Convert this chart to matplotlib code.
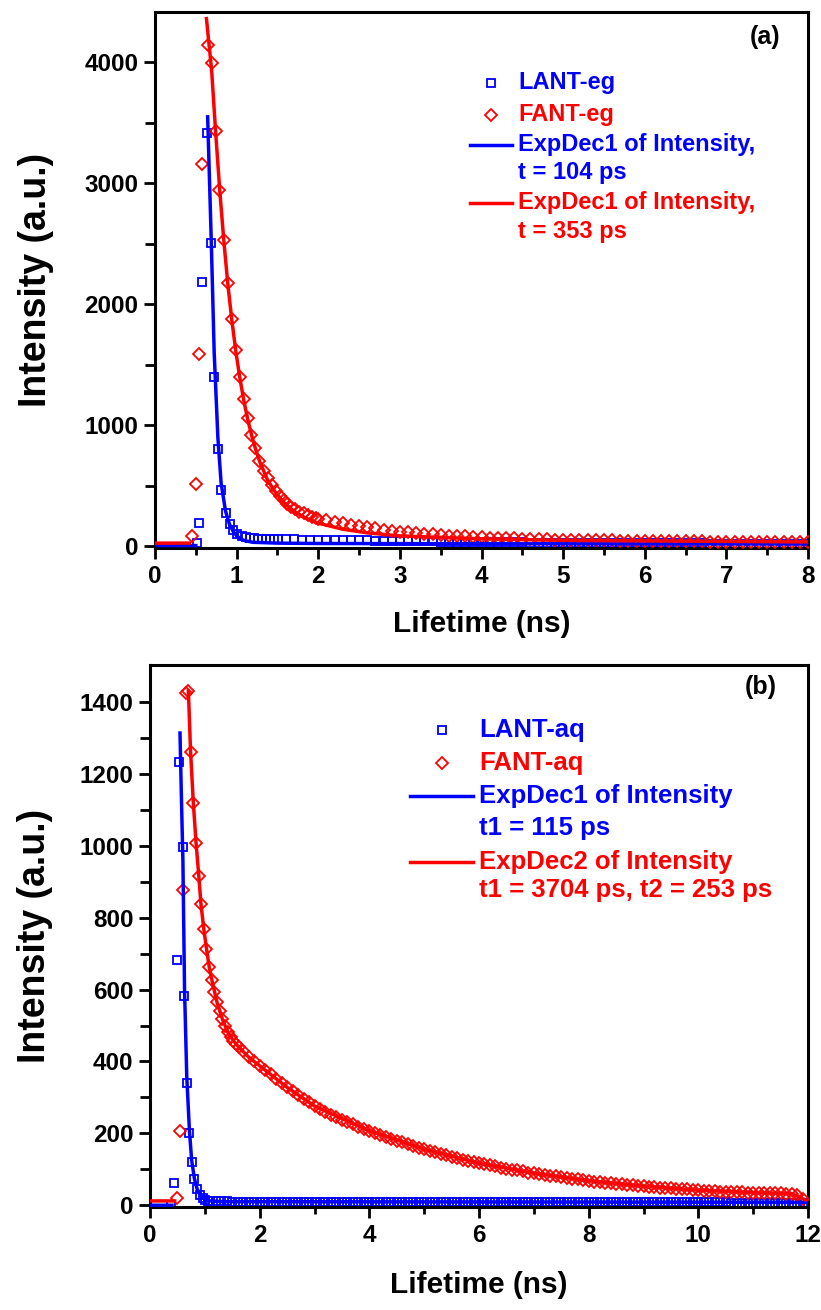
import numpy as np
import matplotlib
matplotlib.use("Agg")
from matplotlib import pyplot as plt

plt.rcParams['font.family'] = ['Liberation Sans', 'DejaVu Sans']
plt.rcParams['font.weight'] = 'bold'
plt.rcParams['axes.labelweight'] = 'bold'

BLUE = '#0000ff'
RED = '#ff0000'

#______________________________ panel (a): -eg samples ______________________________
# LANT-eg decay (squares), steep part then the slow tail every 0.1 ns
t_lant_eg = [0.51, 0.545, 0.58, 0.635, 0.69, 0.725, 0.77, 0.81, 0.864, 0.913,
             0.96, 1.01, 1.06, 1.11, 1.16, 1.21, 1.26, 1.31, 1.36, 1.41, 1.46, 1.51]
i_lant_eg = [25, 193, 2182, 3413, 2504, 1399, 802, 463, 278, 182,
             132, 100, 82, 72, 67, 64, 62, 61, 60, 59, 58, 57]
t_lant_eg_tail = np.round(np.arange(1.6, 8.05, 0.1), 2)
i_lant_eg_tail = [56, 56, 55, 54, 53, 52, 51, 50, 49, 48,
                  47, 46, 45, 44, 43, 42, 41, 40, 39, 38,
                  37, 36, 35, 35, 34, 33, 33, 32, 31, 31,
                  30, 30, 29, 29, 28, 28, 27, 27, 26, 26,
                  25, 25, 25, 24, 24, 24, 23, 23, 23, 22,
                  22, 22, 21, 21, 21, 21, 20, 20, 20, 20,
                  19, 19, 19, 19, 18]

# FANT-eg decay (diamonds)
t_fant_eg = [0.45, 0.50, 0.545, 0.58, 0.647, 0.70, 0.75, 0.79, 0.84, 0.89,
             0.94, 0.99, 1.04, 1.09, 1.14, 1.18, 1.23, 1.28, 1.33, 1.38,
             1.43, 1.48, 1.53, 1.58, 1.62, 1.67, 1.72, 1.77, 1.82, 1.87, 1.92, 1.97]
i_fant_eg = [83, 512, 1592, 3157, 4140, 3997, 3430, 2942, 2529, 2176,
             1876, 1620, 1394, 1215, 1055, 917, 812, 702, 625, 560,
             505, 458, 418, 383, 352, 327, 305, 286, 270, 256, 243, 232]
t_fant_eg_tail = np.round(np.arange(2.0, 8.05, 0.1), 2)
i_fant_eg_tail = [225, 213, 201, 190, 178, 167, 156, 146, 137, 129,
                  121, 114, 108, 102, 97, 92, 88, 84, 80, 77,
                  74, 71, 69, 66, 64, 62, 60, 58, 56, 55,
                  53, 52, 51, 50, 49, 48, 47, 46, 45, 44,
                  43, 42, 42, 41, 40, 40, 39, 39, 38, 38,
                  37, 37, 36, 36, 35, 35, 35, 34, 34, 34,
                  33]

# ExpDec1 fit curves (nan splits off the pre-pulse baseline)
t_fit_lant_eg = [0.0, 0.5, np.nan, 0.645, 0.69, 0.725, 0.77, 0.81, 0.864, 0.913,
                 0.96, 1.0, 1.05, 1.1, 1.2, 1.5, 2.0, 4.0, 8.0]
i_fit_lant_eg = [5, 5, np.nan, 3548, 2504, 1600, 900, 520, 290, 180,
                 120, 85, 60, 45, 32, 25, 22, 20, 18]
t_fit_fant_eg = [0.0, 0.42, np.nan, 0.63, 0.694, 0.743, 0.792, 0.841, 0.89, 0.939,
                 0.988, 1.037, 1.086, 1.135, 1.184, 1.233, 1.282, 1.38, 1.48, 1.58,
                 1.7, 1.85, 2.0, 2.3, 2.6, 3.0, 4.0, 5.0, 8.0]
i_fit_fant_eg = [25, 25, np.nan, 4360, 3930, 3420, 2950, 2540, 2180, 1880,
                 1620, 1400, 1210, 1050, 915, 800, 700, 545, 440, 360,
                 290, 230, 190, 140, 110, 85, 60, 48, 35]

#______________________________ panel (b): -aq samples ______________________________
t_lant_aq = [0.39, 0.44, 0.487, 0.535, 0.597, 0.626, 0.67, 0.72, 0.76, 0.81,
             0.86, 0.91, 0.96, 1.01, 1.06]
i_lant_aq = [2, 62, 682, 1234, 997, 583, 339, 200, 121, 72,
             44, 28, 19, 14, 12]
t_lant_aq_tail = np.round(np.arange(1.1, 12.05, 0.1), 2)
i_lant_aq_tail = [11, 11, 11, 11, 10, 10, 10, 10, 10, 10,
                  10, 10, 10, 10, 10, 10, 10, 10, 10, 10,
                  10, 10, 10, 10, 10, 10, 10, 10, 10, 10,
                  10, 10, 10, 10, 10, 9, 9, 9, 9, 9,
                  9, 9, 9, 9, 9, 9, 9, 9, 9, 9,
                  9, 9, 9, 9, 9, 9, 9, 9, 9, 9,
                  9, 9, 9, 9, 9, 8, 8, 8, 8, 8,
                  8, 8, 8, 8, 8, 8, 8, 8, 8, 8,
                  8, 8, 8, 8, 8, 8, 8, 8, 8, 8,
                  8, 8, 8, 8, 8, 7, 7, 7, 7, 7,
                  7, 7, 7, 7, 7, 7, 7, 7, 7, 7]

t_fant_aq = [0.50, 0.55, 0.60, 0.65, 0.70, 0.74, 0.79, 0.84, 0.89, 0.93,
             0.98, 1.03, 1.08, 1.13, 1.17, 1.22, 1.27, 1.32, 1.37, 1.42,
             1.47, 1.52, 1.57, 1.62]
i_fant_aq = [19, 207, 877, 1425, 1431, 1262, 1120, 1008, 916, 837,
             770, 714, 663, 626, 594, 566, 540, 518, 498, 481,
             468, 458, 449, 440]
t_fant_aq_tail = np.round(np.arange(1.7, 11.95, 0.1), 2)
i_fant_aq_tail = [428, 412, 400, 388, 376, 364, 352, 340, 328, 317,
                  306, 296, 286, 276, 268, 260, 252, 245, 238, 231,
                  225, 219, 213, 207, 201, 196, 190, 185, 180, 175,
                  170, 165, 160, 156, 152, 147, 143, 139, 135, 131,
                  127, 124, 121, 117, 114, 111, 108, 105, 102, 99,
                  97, 94, 91, 89, 87, 84, 82, 80, 78, 76,
                  74, 72, 70, 68, 66, 65, 63, 61, 60, 58,
                  57, 55, 54, 53, 51, 50, 49, 48, 47, 46,
                  45, 44, 43, 42, 41, 40, 39, 38, 37, 37,
                  36, 36, 35, 35, 34, 34, 33, 33, 33, 32,
                  32, 28, 18]

t_fit_lant_aq = [0.0, 0.40, np.nan, 0.547, 0.575, 0.60, 0.63, 0.67, 0.72, 0.76,
                 0.81, 0.86, 0.92, 1.0, 1.1, 1.3, 12.0]
i_fit_lant_aq = [0, 0, np.nan, 1314, 1120, 960, 600, 360, 205, 125,
                 74, 45, 27, 16, 12, 10, 8]
t_fit_fant_aq = [0.0, 0.45, np.nan, 0.70, 0.74, 0.79, 0.84, 0.89, 0.93, 0.98,
                 1.03, 1.08, 1.13, 1.22, 1.32, 1.42, 1.52, 1.62, 1.8, 2.0,
                 2.5, 3.0, 4.0, 5.0, 6.0, 7.0, 8.0, 9.0, 10.0, 11.0, 11.7, 11.95]
i_fit_fant_aq = [12, 12, np.nan, 1431, 1262, 1120, 1008, 916, 837, 770,
                 714, 663, 626, 566, 518, 481, 458, 440, 412, 388,
                 328, 276, 207, 156, 117, 89, 68, 53, 42, 35, 32, 15]

legend_a = [('s', BLUE, 'LANT-eg'), ('D', RED, 'FANT-eg'),
            ('line', BLUE, 'ExpDec1 of Intensity,'), (None, BLUE, 't = 104 ps'),
            ('line', RED, 'ExpDec1 of Intensity,'), (None, RED, 't = 353 ps')]
legend_b = [('s', BLUE, 'LANT-aq'), ('D', RED, 'FANT-aq'),
            ('line', BLUE, 'ExpDec1 of Intensity'), (None, BLUE, 't1 = 115 ps'),
            ('line', RED, 'ExpDec2 of Intensity'), (None, RED, 't1 = 3704 ps, t2 = 253 ps')]


def draw_panel(ax, lant, fant, fit_lant, fit_fant):
    sq = dict(marker='s', ls='none', ms=5.2, mfc='none', mec=BLUE, mew=1.3)
    di = dict(marker='D', ls='none', ms=6.3, mfc='none', mec=RED, mew=1.3)
    for t, i in lant:
        ax.plot(t, i, zorder=2, **sq)
    for t, i in fant:
        ax.plot(t, i, zorder=3, **di)
    ax.plot(*fit_lant, color=BLUE, lw=2.5, zorder=4)
    ax.plot(*fit_fant, color=RED, lw=2.5, zorder=5)


def draw_legend(ax, rows, ys, x0, x1, xt, fs):
    xm = (x0 + x1) / 2
    for (kind, color, text), y in zip(rows, ys):
        if kind == 'line':
            ax.plot([x0, x1], [y, y], color=color, lw=2.5, transform=ax.transAxes)
        elif kind is not None:
            ax.plot([xm], [y], marker=kind, ls='none', mfc='none', mec=color,
                    ms=5.2 if kind == 's' else 6.3, mew=1.3, transform=ax.transAxes)
        ax.text(xt, y, text, color=color, fontsize=fs, ha='left', va='center',
                transform=ax.transAxes)


def style_axes(ax, xmajor, xminor, ymajor, yminor):
    for s in ax.spines.values():
        s.set_linewidth(2.2)
    ax.set_xticks(xmajor)
    ax.set_xticks(xminor, minor=True)
    ax.set_yticks(ymajor)
    ax.set_yticks(yminor, minor=True)
    ax.tick_params(which='major', direction='out', length=8, width=2, labelsize=17.5, pad=4)
    ax.tick_params(axis='x', which='minor', direction='out', length=5, width=2)
    ax.tick_params(axis='y', which='minor', direction='out', length=7, width=2)


fig = plt.figure(figsize=(8.21, 13.10), dpi=100)

ax1 = fig.add_axes([0.1888, 0.5817, 0.7954, 0.4092])
draw_panel(ax1,
           [(t_lant_eg, i_lant_eg), (t_lant_eg_tail, i_lant_eg_tail)],
           [(t_fant_eg, i_fant_eg), (t_fant_eg_tail, i_fant_eg_tail)],
           (t_fit_lant_eg, i_fit_lant_eg), (t_fit_fant_eg, i_fit_fant_eg))
ax1.set_xlim(0, 8)
ax1.set_ylim(-15, 4415)
style_axes(ax1, np.arange(0, 9, 1), np.arange(0.5, 8, 1),
           np.arange(0, 4001, 1000), np.arange(500, 4400, 1000))
ax1.set_xlabel('Lifetime (ns)', fontsize=21.5)
ax1.set_ylabel('Intensity (a.u.)', fontsize=27)
ax1.xaxis.set_label_coords(0.5, -0.115)
ax1.yaxis.set_label_coords(-0.155, 0.5)
ax1.text(0.957, 0.953, '(a)', fontsize=18, ha='right', va='center', transform=ax1.transAxes)
draw_legend(ax1, legend_a, [0.8675, 0.808, 0.752, 0.700, 0.644, 0.590],
            0.482, 0.547, 0.556, 17)

ax2 = fig.add_axes([0.1827, 0.0786, 0.8015, 0.4137])
draw_panel(ax2,
           [(t_lant_aq, i_lant_aq), (t_lant_aq_tail, i_lant_aq_tail)],
           [(t_fant_aq, i_fant_aq), (t_fant_aq_tail, i_fant_aq_tail)],
           (t_fit_lant_aq, i_fit_lant_aq), (t_fit_fant_aq, i_fit_fant_aq))
ax2.set_xlim(0, 12)
ax2.set_ylim(-5, 1503)
style_axes(ax2, np.arange(0, 13, 2), np.arange(1, 12, 2),
           np.arange(0, 1401, 200), np.arange(100, 1500, 200))
ax2.set_xlabel('Lifetime (ns)', fontsize=21.5)
ax2.set_ylabel('Intensity (a.u.)', fontsize=27)
ax2.xaxis.set_label_coords(0.5, -0.118)
ax2.yaxis.set_label_coords(-0.147, 0.5)
ax2.text(0.953, 0.959, '(b)', fontsize=18, ha='right', va='center', transform=ax2.transAxes)
draw_legend(ax2, legend_b, [0.880, 0.819, 0.758, 0.699, 0.637, 0.585],
            0.395, 0.491, 0.500, 18.5)

fig.savefig('out.png', dpi=100)
